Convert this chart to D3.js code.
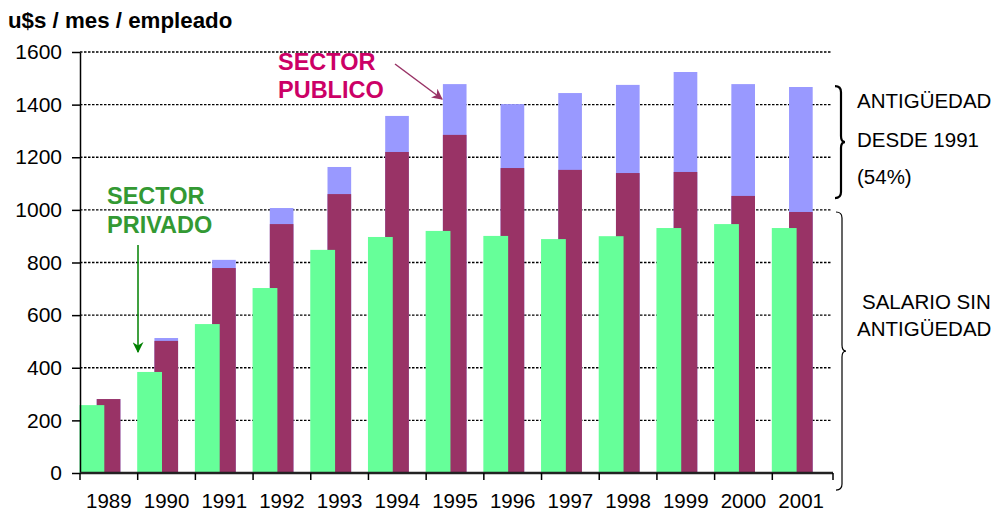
<!DOCTYPE html>
<html>
<head>
<meta charset="utf-8">
<script src="https://cdn.jsdelivr.net/npm/d3@7"></script>
<style>
  body { margin: 0; background: #fff; }
  text { font-family: "Liberation Sans", Arial, sans-serif; }
</style>
</head>
<body>
<script>
// años
var years = ['1989', '1990', '1991', '1992', '1993', '1994', '1995',
             '1996', '1997', '1998', '1999', '2000', '2001'];
// sector privado
var privado = [258, 384, 566, 703, 848, 897, 920, 901, 889, 900, 931, 946, 931];
// sector publico: salario sin antiguedad
var publicoBase = [281, 502, 779, 946, 1060, 1220, 1285, 1159, 1152, 1140, 1144, 1053, 992];
// sector publico: total con antiguedad
var publicoTotal = [281, 513, 810, 1007, 1163, 1357, 1478, 1402, 1444, 1475, 1524, 1478, 1467];
var yTicks = [0, 200, 400, 600, 800, 1000, 1200, 1400, 1600];

var W = 999, H = 511;
var pLeft = 80, pRight = 830, pTop = 52, pBottom = 473;

var svg = d3.select('body').append('svg')
  .attr('width', W)
  .attr('height', H);

var x = d3.scaleBand().domain(years).range([pLeft, pRight]).padding(0);
var y = d3.scaleLinear().domain([0, 1600]).range([pBottom, pTop]);
var step = x.bandwidth();

// grid lines
svg.selectAll('.grid')
  .data(yTicks.slice(1))
  .enter()
    .append('line')
    .attr('x1', pLeft)
    .attr('x2', pRight + 2)
    .attr('y1', function(d) { return y(d); })
    .attr('y2', function(d) { return y(d); })
    .attr('stroke', '#000')
    .attr('stroke-width', 1.3)
    .attr('stroke-dasharray', '2.5,1.5');

// publico: antiguedad (total) then base
svg.selectAll('.tot')
  .data(years)
  .enter()
    .append('rect')
    .attr('x', function(d) { return x(d) + step * 0.29; })
    .attr('width', step * 0.41)
    .attr('y', function(d, i) { return y(publicoTotal[i]); })
    .attr('height', function(d, i) { return y(0) - y(publicoTotal[i]); })
    .attr('fill', '#9999ff');

svg.selectAll('.base')
  .data(years)
  .enter()
    .append('rect')
    .attr('x', function(d) { return x(d) + step * 0.29; })
    .attr('width', step * 0.41)
    .attr('y', function(d, i) { return y(publicoBase[i]); })
    .attr('height', function(d, i) { return y(0) - y(publicoBase[i]); })
    .attr('fill', '#993366');

// privado
svg.selectAll('.priv')
  .data(years)
  .enter()
    .append('rect')
    .attr('x', function(d) { return x(d) - 0.5; })
    .attr('width', step * 0.43)
    .attr('y', function(d, i) { return y(privado[i]); })
    .attr('height', function(d, i) { return y(0) - y(privado[i]); })
    .attr('fill', '#66ff99');

// y axis
var yAxis = d3.axisLeft(y).tickValues(yTicks).tickFormat(d3.format('d'))
  .tickSize(8).tickSizeOuter(0).tickPadding(10);
var gy = svg.append('g')
  .attr('transform', 'translate(' + pLeft + ',0)')
  .call(yAxis);
gy.select('.domain').attr('stroke', '#000').attr('stroke-width', 1.5);
gy.selectAll('.tick line').attr('stroke', '#000').attr('stroke-width', 1.5);
gy.selectAll('.tick text')
  .attr('font-size', 21)
  .attr('fill', '#000')
  .style('font-family', '"Liberation Sans", Arial, sans-serif');

// x axis
var xAxis = d3.axisBottom(x).tickSize(0).tickSizeOuter(0).tickPadding(20);
var gx = svg.append('g')
  .attr('transform', 'translate(0,' + pBottom + ')')
  .call(xAxis);
gx.select('.domain').attr('stroke', '#222').attr('stroke-width', 2.5)
  .attr('d', 'M' + pLeft + ',0H' + (pRight + 3));
gx.selectAll('.tick text')
  .attr('font-size', 20.5)
  .attr('fill', '#000')
  .style('font-family', '"Liberation Sans", Arial, sans-serif');

// category boundary ticks
svg.selectAll('.bt')
  .data(years.concat(['end']))
  .enter()
    .append('line')
    .attr('x1', function(d, i) { return pLeft + i * step + (i === years.length ? 3 : 0); })
    .attr('x2', function(d, i) { return pLeft + i * step + (i === years.length ? 3 : 0); })
    .attr('y1', pBottom)
    .attr('y2', pBottom + 7)
    .attr('stroke', '#000')
    .attr('stroke-width', 1.5);

// title
svg.append('text')
  .attr('x', 8)
  .attr('y', 28)
  .attr('font-size', 22.3)
  .attr('font-weight', 'bold')
  .text('u$s / mes / empleado');

// annotations
svg.append('text').attr('x', 278).attr('y', 70)
  .attr('font-size', 23.5).attr('font-weight', 'bold').attr('fill', '#cc0066')
  .text('SECTOR');
svg.append('text').attr('x', 278).attr('y', 98)
  .attr('font-size', 23.5).attr('font-weight', 'bold').attr('fill', '#cc0066')
  .text('PUBLICO');

svg.append('text').attr('x', 107).attr('y', 204)
  .attr('font-size', 23.5).attr('font-weight', 'bold').attr('fill', '#339933')
  .text('SECTOR');
svg.append('text').attr('x', 107).attr('y', 233)
  .attr('font-size', 23.5).attr('font-weight', 'bold').attr('fill', '#339933')
  .text('PRIVADO');

var defs = svg.append('defs');
function arrowHead(id, color) {
  defs.append('marker')
    .attr('id', id)
    .attr('viewBox', '0 0 10 10')
    .attr('refX', 9).attr('refY', 5)
    .attr('markerWidth', 11).attr('markerHeight', 11)
    .attr('markerUnits', 'userSpaceOnUse')
    .attr('orient', 'auto')
    .append('path')
    .attr('d', 'M0,0 L10,5 L0,10 L3,5 Z')
    .attr('fill', color);
}
arrowHead('arrPub', '#993366');
arrowHead('arrPriv', '#008000');

svg.append('line')
  .attr('x1', 395).attr('y1', 64).attr('x2', 442).attr('y2', 99)
  .attr('stroke', '#993366').attr('stroke-width', 1.5)
  .attr('marker-end', 'url(#arrPub)');
svg.append('line')
  .attr('x1', 138).attr('y1', 245).attr('x2', 138).attr('y2', 352)
  .attr('stroke', '#008000').attr('stroke-width', 1.5)
  .attr('marker-end', 'url(#arrPriv)');

// braces
function brace(y0, y1, x0, w, sw) {
  var m = (y0 + y1) / 2, c = 6;
  var p = 'M' + x0 + ',' + y0 +
    ' Q' + (x0 + w) + ',' + y0 + ' ' + (x0 + w) + ',' + (y0 + c) +
    ' L' + (x0 + w) + ',' + (m - c) +
    ' Q' + (x0 + w) + ',' + m + ' ' + (x0 + w + 4) + ',' + m +
    ' Q' + (x0 + w) + ',' + m + ' ' + (x0 + w) + ',' + (m + c) +
    ' L' + (x0 + w) + ',' + (y1 - c) +
    ' Q' + (x0 + w) + ',' + y1 + ' ' + x0 + ',' + y1;
  svg.append('path').attr('d', p)
    .attr('fill', 'none').attr('stroke', '#000').attr('stroke-width', sw);
}
brace(y(1470), y(1045), 835, 6, 2.2);
brace(y(992), y(-65), 836, 6, 1.2);

var rightLabels = [
  { t: 'ANTIGÜEDAD', x: 857, y: 108 },
  { t: 'DESDE 1991', x: 857, y: 147 },
  { t: '(54%)', x: 857, y: 184 },
  { t: 'SALARIO SIN', x: 862, y: 309 },
  { t: 'ANTIGÜEDAD', x: 857, y: 336 }
];
svg.selectAll('.rl')
  .data(rightLabels)
  .enter()
    .append('text')
    .attr('x', function(d) { return d.x; })
    .attr('y', function(d) { return d.y; })
    .attr('font-size', 20.5)
    .text(function(d) { return d.t; });
</script>
</body>
</html>
